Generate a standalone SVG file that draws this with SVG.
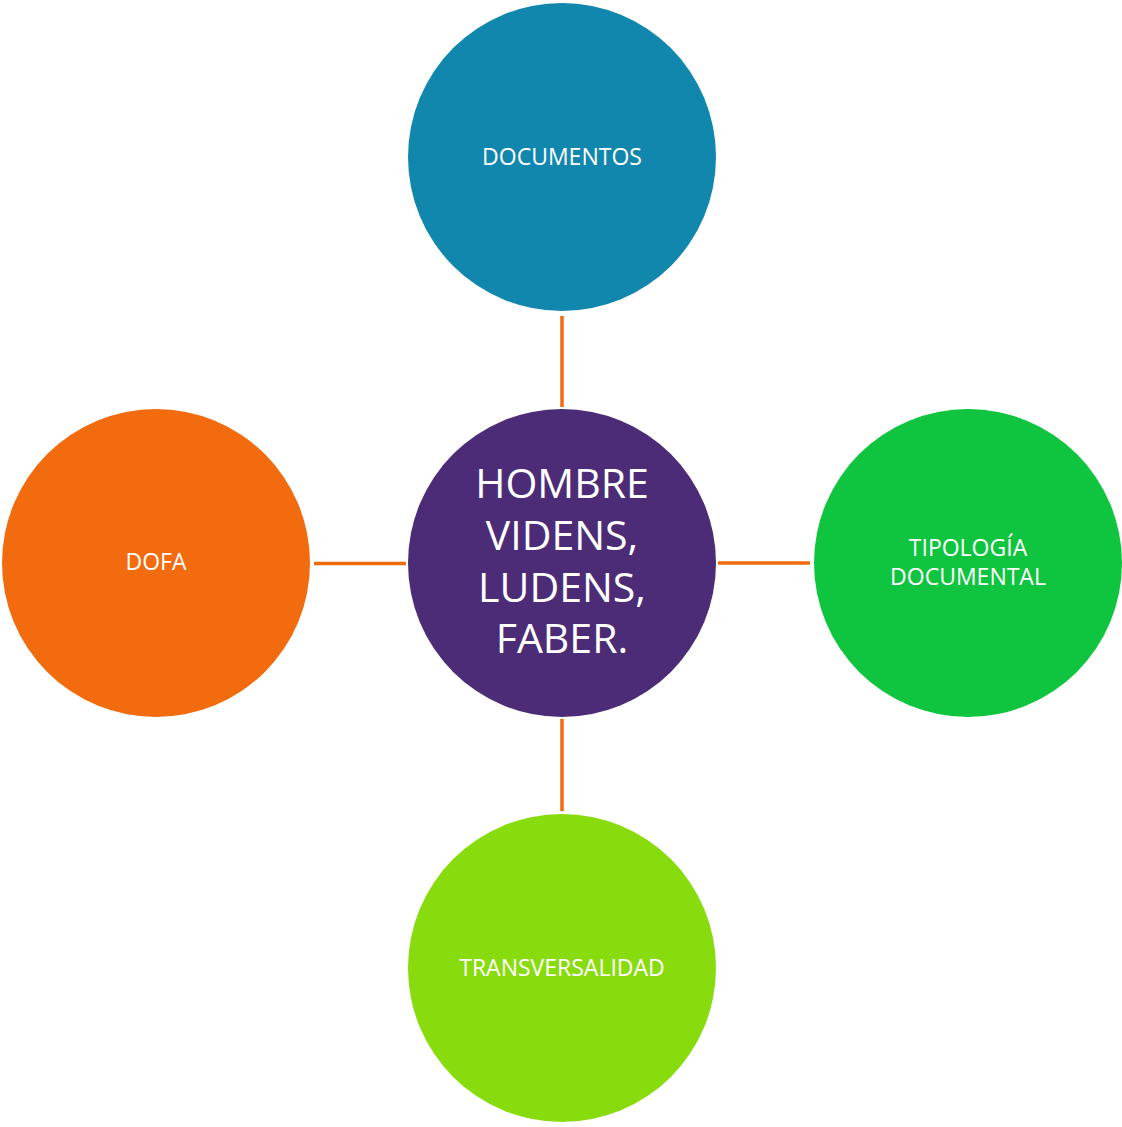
<svg xmlns="http://www.w3.org/2000/svg" width="1122" height="1127" viewBox="0 0 1122 1127">
<style>
.lbl{font-family:"Open Sans","Liberation Sans",sans-serif;font-size:23px;fill:#ffffff;text-anchor:middle}
.big{font-family:"Open Sans","Liberation Sans",sans-serif;font-size:41px;fill:#ffffff;text-anchor:middle}
.conn{stroke:#f26b0f;stroke-width:3.5;fill:none}
</style>
<rect width="1122" height="1127" fill="#ffffff"/>
<g id="connectors">
<line class="conn" x1="562" y1="316" x2="562" y2="407"/>
<line class="conn" x1="314" y1="563.5" x2="406" y2="563.5"/>
<line class="conn" x1="718" y1="563" x2="810" y2="563"/>
<line class="conn" x1="562" y1="719" x2="562" y2="811"/>
</g>
<g id="node-documentos">
<circle cx="562" cy="157" r="154" fill="#1287ae"/>
<text class="lbl" x="562" y="165">DOCUMENTOS</text>
</g>
<g id="node-center">
<circle cx="562" cy="563" r="154" fill="#4d2c77"/>
<text class="big" x="562" y="498">HOMBRE</text>
<text class="big" x="562" y="550">VIDENS,</text>
<text class="big" x="562" y="602">LUDENS,</text>
<text class="big" x="562" y="653">FABER.</text>
</g>
<g id="node-dofa">
<circle cx="156" cy="563" r="154" fill="#f26b0f"/>
<text class="lbl" x="156" y="570">DOFA</text>
</g>
<g id="node-tipologia">
<circle cx="968" cy="563" r="154" fill="#0fc43e"/>
<text class="lbl" x="968" y="556">TIPOLOGÍA</text>
<text class="lbl" x="968" y="585">DOCUMENTAL</text>
</g>
<g id="node-transversalidad">
<circle cx="562" cy="968" r="154" fill="#88dc0e"/>
<text class="lbl" x="562" y="976">TRANSVERSALIDAD</text>
</g>
</svg>
